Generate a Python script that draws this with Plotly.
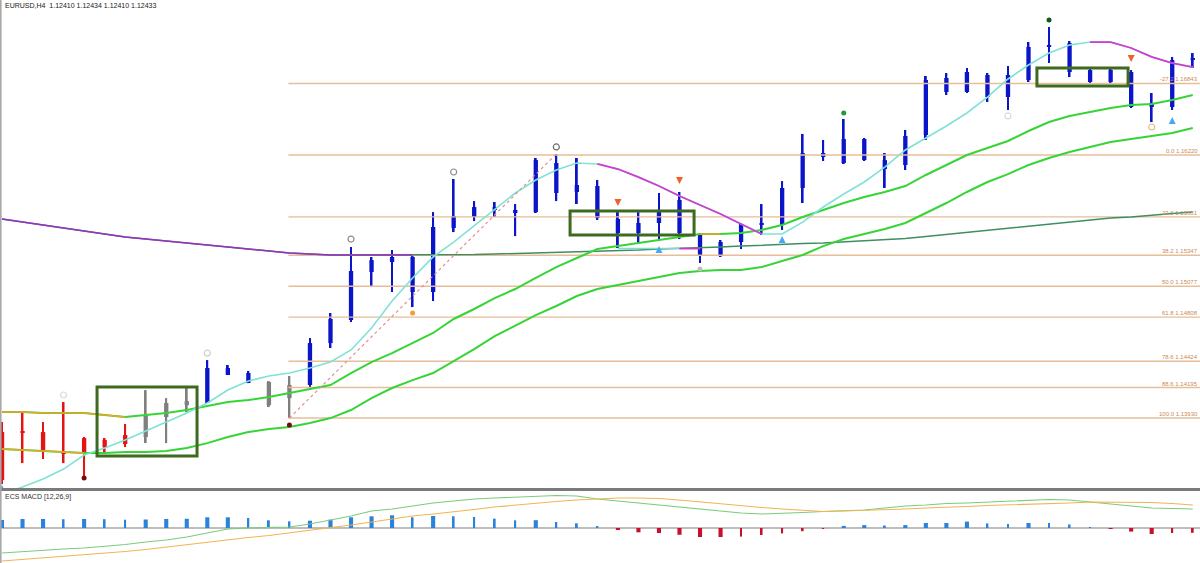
import plotly.graph_objects as go

# ---------------- data ----------------
symbol_header = "EURUSD,H4  1.12410 1.12434 1.12410 1.12433"
macd_title = "ECS MACD [12,26,9]"

bar_index = list(range(59))
trend = ['dn'] * 7 + ['nt'] * 3 + ['up'] * 3 + ['nt'] * 2 + ['up'] * 44

open_ = [1.13389, 1.13816, 1.13807, 1.13633, 1.13624, 1.13738, 1.13703, 1.13764, 1.13938, 1.14042,
         1.14060, 1.14365, 1.14321, 1.14243, 1.14103, 1.14217, 1.14582, 1.14783, 1.15201, 1.15288,
         1.15332, 1.15027, 1.15584, 1.15680, 1.15767, 1.15741, 1.15723, 1.16150, 1.15898, 1.15950,
         1.15663, 1.15541, 1.15628, 1.15828, 1.15532, 1.15340, 1.15462, 1.15610, 1.15610, 1.15933,
         1.16237, 1.16150, 1.16359, 1.16176, 1.16133, 1.16394, 1.16891, 1.16769, 1.16917, 1.16725,
         1.16873, 1.17161, 1.17195, 1.16960, 1.16856, 1.16943, 1.16638, 1.16638, 1.17047]
high = [1.13894, 1.13973, 1.13894, 1.14069, 1.13764, 1.13755, 1.13877, 1.14173, 1.14103, 1.14191,
        1.14434, 1.14391, 1.14339, 1.14251, 1.14295, 1.14626, 1.14844, 1.15419, 1.15332, 1.15392,
        1.15340, 1.15723, 1.16011, 1.15819, 1.15811, 1.15793, 1.16194, 1.16229, 1.16194, 1.16002,
        1.15723, 1.15723, 1.15889, 1.15898, 1.15541, 1.15480, 1.15628, 1.15793, 1.15993, 1.16403,
        1.16351, 1.16534, 1.16368, 1.16237, 1.16438, 1.16908, 1.16934, 1.16978, 1.16934, 1.16995,
        1.17204, 1.17335, 1.17213, 1.16978, 1.16969, 1.16960, 1.16760, 1.17074, 1.17108]
low = [1.13354, 1.13537, 1.13572, 1.13537, 1.13415, 1.13633, 1.13677, 1.13711, 1.13711, 1.13981,
       1.14060, 1.14304, 1.14234, 1.14025, 1.13929, 1.14173, 1.14539, 1.14765, 1.15070, 1.15027,
       1.14896, 1.14948, 1.15549, 1.15645, 1.15680, 1.15514, 1.15715, 1.15819, 1.15793, 1.15654,
       1.15410, 1.15453, 1.15480, 1.15488, 1.15279, 1.15332, 1.15401, 1.15523, 1.15567, 1.15802,
       1.16168, 1.16142, 1.16168, 1.15933, 1.16089, 1.16351, 1.16743, 1.16760, 1.16682, 1.16612,
       1.16856, 1.17021, 1.16899, 1.16847, 1.16847, 1.16629, 1.16507, 1.16612, 1.16978]
close = [1.13807, 1.13799, 1.13633, 1.13624, 1.13755, 1.13677, 1.13781, 1.13955, 1.14060, 1.14077,
         1.14365, 1.14304, 1.14234, 1.14042, 1.14217, 1.14582, 1.14792, 1.15210, 1.15305, 1.15332,
         1.15027, 1.15593, 1.15689, 1.15767, 1.15741, 1.15715, 1.16176, 1.15889, 1.15959, 1.15671,
         1.15541, 1.15628, 1.15723, 1.15541, 1.15349, 1.15462, 1.15619, 1.15628, 1.15933, 1.16237,
         1.16203, 1.16359, 1.16176, 1.16098, 1.16385, 1.16873, 1.16769, 1.16943, 1.16725, 1.16917,
         1.17161, 1.17178, 1.16943, 1.16856, 1.16960, 1.16638, 1.16673, 1.17047, 1.17065]

ma_fast = [1.13267, 1.13328, 1.13398, 1.13485, 1.13607, 1.13668, 1.13738, 1.13816, 1.13894, 1.13973,
           1.14060, 1.14173, 1.14252, 1.14295, 1.14321, 1.14365, 1.14417, 1.14522, 1.14713, 1.14948,
           1.15149, 1.15332, 1.15462, 1.15602, 1.15741, 1.15889, 1.16002, 1.16089, 1.16150, 1.16142,
           1.16098, 1.16028, 1.15950, 1.15863, 1.15784, 1.15706, 1.15619, 1.15532, 1.15532, 1.15636,
           1.15767, 1.15880, 1.15985, 1.16115, 1.16264, 1.16368, 1.16473, 1.16586, 1.16725, 1.16882,
           1.17004, 1.17108, 1.17178, 1.17204, 1.17204, 1.17152, 1.17074, 1.17021, 1.16986]
ma_mid = [1.13981, 1.13981, 1.13973, 1.13973, 1.13973, 1.13955, 1.13938, 1.13955, 1.13973, 1.13999,
          1.14034, 1.14069, 1.14086, 1.14112, 1.14147, 1.14182, 1.14217, 1.14321, 1.14417, 1.14495,
          1.14582, 1.14670, 1.14792, 1.14879, 1.14974, 1.15053, 1.15149, 1.15244, 1.15323, 1.15401,
          1.15427, 1.15453, 1.15480, 1.15506, 1.15532, 1.15532, 1.15541, 1.15567, 1.15610, 1.15680,
          1.15741, 1.15802, 1.15854, 1.15898, 1.15950, 1.16046, 1.16133, 1.16220, 1.16281, 1.16342,
          1.16429, 1.16507, 1.16560, 1.16594, 1.16629, 1.16655, 1.16664, 1.16699, 1.16743]
ma_slow = [1.13659, 1.13651, 1.13642, 1.13633, 1.13624, 1.13624, 1.13633, 1.13633, 1.13642, 1.13668,
           1.13711, 1.13764, 1.13807, 1.13833, 1.13851, 1.13886, 1.13929, 1.13999, 1.14103, 1.14191,
           1.14260, 1.14321, 1.14426, 1.14530, 1.14643, 1.14731, 1.14826, 1.14905, 1.14992, 1.15053,
           1.15088, 1.15123, 1.15157, 1.15192, 1.15210, 1.15218, 1.15218, 1.15244, 1.15297, 1.15349,
           1.15427, 1.15488, 1.15532, 1.15575, 1.15628, 1.15715, 1.15802, 1.15898, 1.15985, 1.16054,
           1.16133, 1.16194, 1.16246, 1.16290, 1.16333, 1.16359, 1.16385, 1.16412, 1.16455]
ma_long = [1.15663, 1.15636, 1.15610, 1.15584, 1.15558, 1.15532, 1.15506, 1.15488, 1.15471, 1.15453,
           1.15436, 1.15419, 1.15401, 1.15384, 1.15366, 1.15358, 1.15349, 1.15349, 1.15349, 1.15349,
           1.15349, 1.15349, 1.15349, 1.15353, 1.15358, 1.15362, 1.15366, 1.15371, 1.15375, 1.15384,
           1.15388, 1.15392, 1.15401, 1.15406, 1.15410, 1.15419, 1.15427, 1.15436, 1.15445, 1.15449,
           1.15453, 1.15462, 1.15471, 1.15480, 1.15493, 1.15510, 1.15528, 1.15549, 1.15567, 1.15584,
           1.15602, 1.15619, 1.15636, 1.15654, 1.15671, 1.15680, 1.15697, 1.15710, 1.15723]

# colour-switch ranges (inclusive bar indices)
fast_alt_ranges = [(29, 37), (53, 58)]
mid_alt_ranges = [(0, 6), (34, 35)]
slow_alt_ranges = [(0, 4)]
long_alt_ranges = [(0, 20)]

stop_idx = [30, 33, 34]
stop_px = [1.15405, 1.15405, 1.15405]

fib_pct = [-27.2, 0.0, 23.6, 38.2, 50.0, 61.8, 78.6, 88.6, 100.0]
fib_price = [1.16843, 1.16220, 1.15681, 1.15347, 1.15077, 1.14808, 1.14424, 1.14195, 1.13930]
fib_anchor_idx = [14, 27]
fib_anchor_px = [1.13929, 1.16229]

box_x0 = [4.63, 27.67, 50.41]
box_x1 = [9.50, 33.71, 54.85]
box_top = [1.14199, 1.15732, 1.16978]
box_bottom = [1.13598, 1.15523, 1.16821]

sig_dn_idx = [30, 33, 55]
sig_dn_px = [1.15776, 1.15967, 1.17030]
sig_up_idx = [0, 32, 38, 57]
sig_up_px = [1.13346, 1.15427, 1.15514, 1.16551]
ring_idx = [3, 10, 17, 22, 27, 49, 56]
ring_px = [1.14130, 1.14495, 1.15488, 1.16072, 1.16290, 1.16560, 1.16464]
dot_idx = [4, 14, 20, 34, 41, 51]
dot_px = [1.13407, 1.13868, 1.14844, 1.15227, 1.16586, 1.17396]

macd_main = [-0.00250, -0.00235, -0.00220, -0.00210, -0.00200, -0.00185, -0.00165, -0.00140, -0.00120, -0.00090,
             -0.00050, -0.00010, 0.00000, 0.00005, 0.00010, 0.00040, 0.00080, 0.00120, 0.00170, 0.00190,
             0.00220, 0.00250, 0.00270, 0.00290, 0.00300, 0.00310, 0.00320, 0.00325, 0.00320, 0.00290,
             0.00270, 0.00250, 0.00230, 0.00210, 0.00190, 0.00170, 0.00150, 0.00140, 0.00145, 0.00155,
             0.00165, 0.00170, 0.00180, 0.00200, 0.00220, 0.00230, 0.00245, 0.00250, 0.00260, 0.00270,
             0.00280, 0.00285, 0.00280, 0.00260, 0.00240, 0.00215, 0.00200, 0.00195, 0.00190]
macd_signal = [-0.00330, -0.00315, -0.00300, -0.00285, -0.00270, -0.00250, -0.00235, -0.00215, -0.00190, -0.00165,
               -0.00140, -0.00115, -0.00095, -0.00075, -0.00050, -0.00025, 0.00000, 0.00030, 0.00060, 0.00090,
               0.00120, 0.00140, 0.00160, 0.00185, 0.00210, 0.00230, 0.00250, 0.00265, 0.00280, 0.00290,
               0.00300, 0.00300, 0.00295, 0.00280, 0.00260, 0.00240, 0.00220, 0.00205, 0.00190, 0.00175,
               0.00165, 0.00170, 0.00175, 0.00180, 0.00190, 0.00200, 0.00205, 0.00215, 0.00225, 0.00230,
               0.00240, 0.00245, 0.00250, 0.00260, 0.00260, 0.00260, 0.00255, 0.00245, 0.00230]
macd_hist = [0.00080, 0.00090, 0.00090, 0.00088, 0.00090, 0.00088, 0.00083, 0.00085, 0.00090, 0.00092,
             0.00107, 0.00107, 0.00100, 0.00077, 0.00067, 0.00073, 0.00083, 0.00107, 0.00117, 0.00127,
             0.00107, 0.00120, 0.00117, 0.00110, 0.00093, 0.00077, 0.00078, 0.00060, 0.00047, 0.00013,
             -0.00018, -0.00043, -0.00050, -0.00068, -0.00090, -0.00090, -0.00086, -0.00070, -0.00054, -0.00032,
             -0.00003, 0.00021, 0.00029, 0.00025, 0.00029, 0.00050, 0.00050, 0.00064, 0.00046, 0.00039,
             0.00050, 0.00049, 0.00036, 0.00010, -0.00010, -0.00036, -0.00060, -0.00050, -0.00048]

# ---------------- styling ----------------
candle_colors = {'dn': '#E41414', 'nt': '#7F7F7F', 'up': '#0A14C8'}
FONT = 'Liberation Sans'

fig = go.Figure()


def segment(values, ranges):
    out = [None] * len(values)
    for a, b in ranges:
        for i in range(a, b + 1):
            out[i] = values[i]
    return out


def line(y, color, width, dash='solid', x=bar_index, ya='y'):
    fig.add_trace(go.Scatter(x=x, y=y, mode='lines', line=dict(color=color, width=width, dash=dash),
                             hoverinfo='skip', xaxis='x' if ya == 'y' else 'x2', yaxis=ya,
                             connectgaps=False))


# fibonacci levels
fx, fy = [], []
for p in fib_price:
    fx += [fib_anchor_idx[0] - 0.05, 60, None]
    fy += [p, p, None]
line(fy, '#E6BE98', 1.4, x=fx)

# moving averages
line(ma_long, '#3E8E62', 1.5)
line(segment(ma_long, long_alt_ranges), '#9A2FC4', 1.5)
line(ma_slow, '#37D437', 2)
line(segment(ma_slow, slow_alt_ranges), '#F0A326', 1.5)
line(ma_mid, '#37D437', 2)
line(segment(ma_mid, mid_alt_ranges), '#F0A326', 1.5)
line(stop_px[:2], '#7FDCD4', 1.5, x=stop_idx[:2])
line(stop_px[1:], '#C93AC9', 1.8, x=stop_idx[1:])
line(ma_fast, '#80E2D6', 1.6)
line(segment(ma_fast, fast_alt_ranges), '#D03CD0', 1.8)

# fib anchor trend line
line(fib_anchor_px, '#E39090', 1.2, dash='dot', x=fib_anchor_idx)

# candles
for key, col in candle_colors.items():
    ids = [i for i in bar_index if trend[i] == key]
    fig.add_trace(go.Bar(x=ids, y=[high[i] - low[i] for i in ids], base=[low[i] for i in ids],
                         width=0.09, marker=dict(color=col, line=dict(width=0)), hoverinfo='skip'))
    fig.add_trace(go.Bar(x=ids, y=[max(abs(close[i] - open_[i]), 0.00005) for i in ids],
                         base=[min(open_[i], close[i]) for i in ids],
                         width=0.21, marker=dict(color=col, line=dict(width=0)), hoverinfo='skip'))

# signal markers
fig.add_trace(go.Scatter(x=sig_dn_idx, y=sig_dn_px, mode='markers', hoverinfo='skip',
                         marker=dict(symbol='arrow-down', size=7, color='#F0602A')))
fig.add_trace(go.Scatter(x=sig_up_idx, y=sig_up_px, mode='markers', hoverinfo='skip',
                         marker=dict(symbol='arrow-up', size=7, color='#45A8F0')))
fig.add_trace(go.Scatter(x=ring_idx, y=ring_px, mode='markers', hoverinfo='skip',
                         marker=dict(symbol='circle-open', size=6,
                                     color=['#D8D8D8', '#D0D0D0', '#8C8C8C', '#8C8C8C', '#6A6A6A', '#D8D8D8', '#E8B880'],
                                     line=dict(width=1.2))))
fig.add_trace(go.Scatter(x=dot_idx, y=dot_px, mode='markers', hoverinfo='skip',
                         marker=dict(symbol='circle', size=5,
                                     color=['#7A0A0A', '#7A0A0A', '#F0A030', '#C0C0C0', '#1E9A3A', '#0E5A1E'])))

# MACD panel
line(macd_main, '#7CCB7C', 1.1, ya='y2')
line(macd_signal, '#F2B452', 1.1, ya='y2')
thick = [i == 0 or abs(macd_hist[i]) >= abs(macd_hist[i - 1]) for i in bar_index]
fig.add_trace(go.Bar(x=bar_index, y=macd_hist, xaxis='x2', yaxis='y2', hoverinfo='skip',
                     width=[0.2 if t else 0.09 for t in thick],
                     marker=dict(color=['#2A82DA' if v >= 0 else '#C8102E' for v in macd_hist], line=dict(width=0))))

# boxes
for x0, x1, t, b in zip(box_x0, box_x1, box_top, box_bottom):
    fig.add_shape(type='rect', xref='x', yref='y', x0=x0, x1=x1, y0=b, y1=t,
                  line=dict(color='#3D6A1E', width=3), fillcolor='rgba(0,0,0,0)')

# panel separator, left border, MACD zero line
fig.add_shape(type='line', xref='paper', yref='paper', x0=0, x1=1, y0=0.13055, y1=0.13055,
              line=dict(color='#7A7A7A', width=3))
fig.add_shape(type='line', xref='paper', yref='paper', x0=0.0005, x1=0.0005, y0=0, y1=1,
              line=dict(color='#A8A8A8', width=2))
fig.add_shape(type='line', xref='x2', yref='y2', x0=-1, x1=60, y0=0, y1=0,
              line=dict(color='#BDBDBD', width=2), layer='below')

# texts
fig.add_annotation(text=symbol_header, xref='paper', yref='paper', x=0.0025, y=1, xanchor='left',
                   yanchor='top', showarrow=False, font=dict(family=FONT, size=7, color='#1A1A1A'))
fig.add_annotation(text=macd_title, xref='paper', yref='paper', x=0.0025, y=0.1279, xanchor='left',
                   yanchor='top', showarrow=False, font=dict(family=FONT, size=7, color='#333333'))
for pct, p in zip(fib_pct, fib_price):
    fig.add_annotation(text=f"{pct:.1f} {p:.5f}", xref='paper', yref='y', x=0.999, y=p,
                       xanchor='right', yanchor='bottom', showarrow=False, borderpad=0,
                       font=dict(family=FONT, size=6, color='#C98A58'))

fig.update_layout(
    width=1200, height=563, margin=dict(l=0, r=0, t=0, b=0),
    paper_bgcolor='white', plot_bgcolor='white', showlegend=False, barmode='overlay',
    xaxis=dict(domain=[0, 1], range=[-0.0974, 58.353], visible=False, anchor='y'),
    yaxis=dict(domain=[0.133215, 1], range=[1.13320, 1.17570], visible=False, anchor='x'),
    xaxis2=dict(domain=[0, 1], range=[-0.0974, 58.353], visible=False, anchor='y2'),
    yaxis2=dict(domain=[0, 0.127886], range=[-0.0035, 0.0037], visible=False, anchor='x2'),
)

fig.write_html("out.html", config={'displayModeBar': False},
               post_script="document.body.style.margin='0';document.body.style.overflow='hidden';")
